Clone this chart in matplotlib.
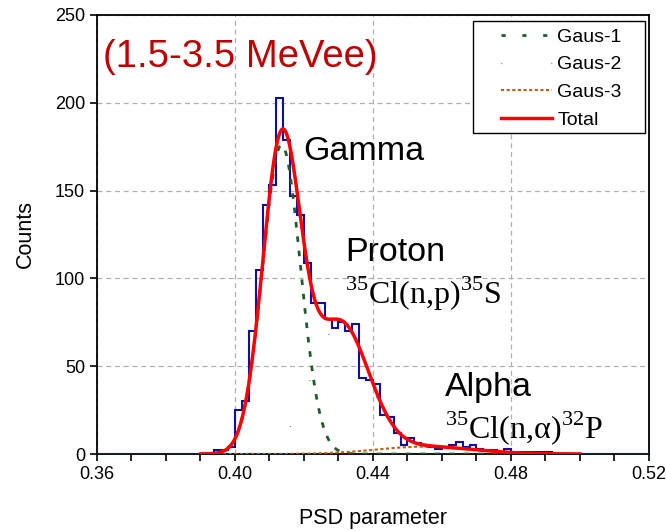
import numpy as np
import matplotlib
matplotlib.use("Agg")
import matplotlib.pyplot as plt
from matplotlib.ticker import MultipleLocator
from matplotlib.lines import Line2D
from matplotlib.patches import Rectangle

# histogram: PSD parameter bins of 0.002 from 0.36 to 0.52
bin_start = 0.36
bin_width = 0.002
counts = [0, 0, 0, 0, 0, 0, 0, 0, 0, 0, 0, 0, 0, 0, 0, 0, 0,
          2.5, 2.5, 4, 25, 30, 70, 105, 142, 153, 203, 179, 147, 136,
          109, 86, 86, 77, 72, 75, 70, 74, 43, 42, 40, 22, 21, 12,
          5, 9, 6, 5, 4, 3, 4, 5, 7, 4, 5, 3, 2, 2, 1, 3,
          1, 1, 1, 1, 1, 1,
          0, 0, 0, 0, 0, 0, 0, 0, 0, 0, 0, 0, 0, 0]

# fitted gaussian components: amplitude, centre, sigma
gaus_names = ["Gaus-1", "Gaus-2", "Gaus-3"]
gaus_amp = [176.0, 74.0, 4.2]
gaus_mu = [0.4135, 0.4305, 0.455]
gaus_sigma = [0.0055, 0.0082, 0.014]
fit_range = (0.39, 0.50)

plt.rcParams["font.family"] = ["Liberation Sans", "DejaVu Sans"]
plt.rcParams["mathtext.fontset"] = "custom"
plt.rcParams["mathtext.rm"] = "Liberation Serif"

fig = plt.figure(figsize=(6.67, 5.31), dpi=100)
ax = fig.add_axes([0.1454, 0.145, 0.973 - 0.1454, 0.9718 - 0.145])

edges = bin_start + bin_width * np.arange(len(counts) + 1)
ax.stairs(counts, edges, color="#1010a0", lw=1.5, zorder=3)

x = np.linspace(fit_range[0], fit_range[1], 600)
comps = [a * np.exp(-(x - m) ** 2 / (2 * s ** 2))
         for a, m, s in zip(gaus_amp, gaus_mu, gaus_sigma)]

green, purple, orange, red = "#1e5c2e", "#7030a0", "#c55a11", "#ff0000"
ax.plot(x, comps[0], color=green, lw=2, dashes=(2, 3.2), zorder=4)
ax.plot(x, comps[1], color=purple, lw=1, dashes=(0.5, 35.5), zorder=4)
ax.plot(x, comps[2], color=orange, lw=1.5, dashes=(1.5, 1.2), zorder=4)
ax.plot(x, comps[0] + comps[1] + comps[2], color=red, lw=2.5, zorder=5)

ax.set_xlim(0.36, 0.52)
ax.set_ylim(0, 250)
ax.xaxis.set_major_locator(MultipleLocator(0.04))
ax.xaxis.set_minor_locator(MultipleLocator(0.01))
ax.yaxis.set_major_locator(MultipleLocator(50))
ax.xaxis.set_major_formatter(plt.FormatStrFormatter("%.2f"))
ax.tick_params(axis="both", which="major", direction="out", length=5,
               width=1.2, labelsize=13, color="black")
ax.tick_params(axis="x", which="minor", direction="out", length=5,
               width=1.2, color="black")
ax.grid(True, which="major", color="#b0b0b0", ls=(0, (4, 3)), lw=0.9)
for sp in ax.spines.values():
    sp.set_color("black")
    sp.set_linewidth(1.3)

ax.set_xlabel("PSD parameter", fontsize=15.5, labelpad=18)
ax.set_ylabel("Counts", fontsize=15.5, labelpad=14)

ax.text(0.3617, 226, "(1.5-3.5 MeVee)", color="#c00000", fontsize=27.5,
        ha="left", va="center")
ax.text(0.4197, 172, "Gamma", fontsize=24.5, ha="left", va="center")
ax.text(0.4319, 115, "Proton", fontsize=24.5, ha="left", va="center")
ax.text(0.4319, 91, r"$^{35}$Cl(n,p)$^{35}$S", fontsize=23,
        family="Liberation Serif", ha="left", va="center")
ax.text(0.4609, 38, "Alpha", fontsize=24.5, ha="left", va="center")
ax.text(0.4609, 15, r"$^{35}$Cl(n,α)$^{32}$P", fontsize=23,
        family="Liberation Serif", ha="left", va="center")

# legend with separate proxy handles and a hand-placed frame
handles = [
    Line2D([], [], color=green, lw=2, dashes=(1.5, 6)),
    Line2D([], [], color=purple, lw=1, dashes=(0.5, 35.5)),
    Line2D([], [], color=orange, lw=1.5, dashes=(1.5, 1.2)),
    Line2D([], [], color=red, lw=2.5),
]
ax.legend(handles, gaus_names + ["Total"], loc="upper left",
          bbox_to_anchor=(0.732, 0.970), fontsize=14, frameon=False,
          handlelength=2.6, handletextpad=0.3, labelspacing=0.52,
          borderaxespad=0, borderpad=0)
ax.add_patch(Rectangle((0.681, 0.731), 0.993 - 0.681, 0.986 - 0.731,
                       transform=ax.transAxes, fill=True, facecolor="white",
                       edgecolor="black", lw=1.0, zorder=6))
ax.get_legend().set_zorder(7)

fig.savefig("out.png", dpi=100)
